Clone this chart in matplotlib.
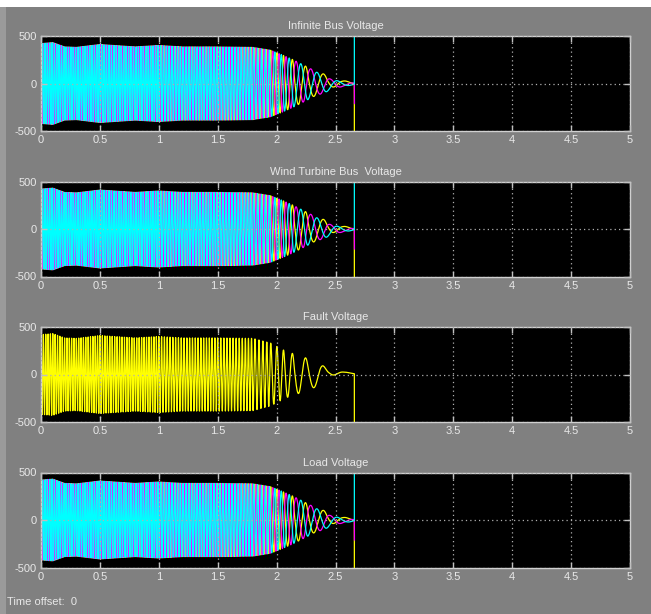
import numpy as np
import matplotlib
matplotlib.use("Agg")
import matplotlib.pyplot as plt
from matplotlib.patches import Rectangle

# --- values ---
titles = ["Infinite Bus Voltage", "Wind Turbine Bus  Voltage", "Fault Voltage", "Load Voltage"]
x_ticks = [0, 0.5, 1, 1.5, 2, 2.5, 3, 3.5, 4, 4.5, 5]
x_labels = ["0", "0.5", "1", "1.5", "2", "2.5", "3", "3.5", "4", "4.5", "5"]
y_ticks = [-500, 0, 500]
y_labels = ["-500", "0", "500"]

# cycle count reached at given times (peaks of the fault trace fall on whole cycles)
phase_t = [0.0, 0.5, 1.0, 1.5, 1.8, 1.95, 2.013, 2.07, 2.15, 2.27, 2.43, 2.66]
phase_cycles = [0, 25, 49, 70, 81.5, 86, 87.2, 88.2, 89.2, 90.2, 91.2, 92.4]

# envelope of the three-phase bus voltages
env3_t = [0, 0.1, 0.2, 0.3, 0.5, 0.8, 1.0, 1.2, 1.5, 1.8, 1.95, 2.05, 2.14, 2.25, 2.36, 2.46, 2.56, 2.66]
env3_v = [420, 430, 385, 380, 410, 385, 400, 385, 385, 380, 350, 300, 250, 180, 110, 60, 20, 10]

# envelope and offset of the fault voltage
envf_t = [0, 0.1, 0.2, 0.3, 0.5, 0.8, 1.0, 1.2, 1.5, 1.8, 1.95, 2.01, 2.07, 2.15, 2.27, 2.34, 2.43, 2.5, 2.57, 2.66]
envf_v = [420, 430, 385, 380, 410, 385, 400, 385, 385, 380, 330, 290, 250, 215, 165, 130, 40, 25, 8, 5]
biasf_t = [2.3, 2.45, 2.66]
biasf_v = [0, 25, 12]

# settling offsets of phases a, b, c
bias3_t = [2.3, 2.45, 2.66]
bias3_a = [0, 15, 5]
bias3_b = [0, -15, -5]
bias3_c = [0, -10, -5]

t_end = 2.66
# last sample: the simulation blows up and the traces jump off scale
jump_a = -5000
jump_b = -210
jump_c = 5000
jump_f = -5000

colors = {"a": "#ffff00", "b": "#ff00ff", "c": "#00ffff"}

t = np.linspace(0, t_end, 24000)
cyc = np.interp(t, phase_t, phase_cycles)
env3 = np.interp(t, env3_t, env3_v)
envf = np.interp(t, envf_t, envf_v)


def bias(bt, bv):
    return np.interp(t, bt, bv, left=0)


va = env3 * np.cos(2 * np.pi * cyc) + bias(bias3_t, bias3_a)
vb = env3 * np.cos(2 * np.pi * cyc - 2 * np.pi / 3) + bias(bias3_t, bias3_b)
vc = env3 * np.cos(2 * np.pi * cyc + 2 * np.pi / 3) + bias(bias3_t, bias3_c)
vf = envf * np.cos(2 * np.pi * cyc) + bias(biasf_t, biasf_v)

tt = np.append(t, t_end + 0.001)
va = np.append(va, jump_a)
vb = np.append(vb, jump_b)
vc = np.append(vc, jump_c)
vf = np.append(vf, jump_f)

plt.rcParams["font.family"] = ["Liberation Sans", "DejaVu Sans"]

W, H = 651, 614
fig = plt.figure(figsize=(W / 100, H / 100), dpi=100)
fig.patch.set_facecolor("#808080")
fig.patches.append(Rectangle((0, 1 - 7 / H), 1, 7 / H, transform=fig.transFigure,
                             facecolor="white", edgecolor="none"))
fig.patches.append(Rectangle((0, 0), 6 / W, 1 - 7 / H, transform=fig.transFigure,
                             facecolor="#9a9a9a", edgecolor="none"))

tops = [36, 181.5, 327, 472.5]
fg = "#e8e8e8"
lw = 0.9
for i, top in enumerate(tops):
    ax = fig.add_axes([41 / W, 1 - (top + 95) / H, 589 / W, 95 / H])
    ax.set_facecolor("black")
    if i == 2:
        ax.plot(tt, vf, color=colors["a"], lw=lw)
    else:
        ax.plot(tt, va, color=colors["a"], lw=lw)
        ax.plot(tt, vb, color=colors["b"], lw=lw)
        ax.plot(tt, vc, color=colors["c"], lw=lw)
    ax.set_xlim(0, 5)
    ax.set_ylim(-500, 500)
    ax.set_xticks(x_ticks)
    ax.set_xticklabels(x_labels)
    ax.set_yticks(y_ticks)
    ax.set_yticklabels(y_labels)
    ax.grid(True, color="#b0b0b0", linestyle=(0, (1, 2.5)), linewidth=0.9)
    ax.set_axisbelow(False)
    ax.tick_params(direction="in", length=4, width=1, color="#c0c0c0",
                   top=True, right=True, labelcolor=fg, labelsize=8, pad=3)
    for s in ax.spines.values():
        s.set_color("#d0d0d0")
        s.set_linewidth(1)
    ax.set_title(titles[i], color=fg, fontsize=8, pad=5)

fig.text(7 / W, 1 - 602 / H, "Time offset:  0", color=fg, fontsize=8, va="center")

fig.savefig("out.png", dpi=100, facecolor=fig.get_facecolor())
